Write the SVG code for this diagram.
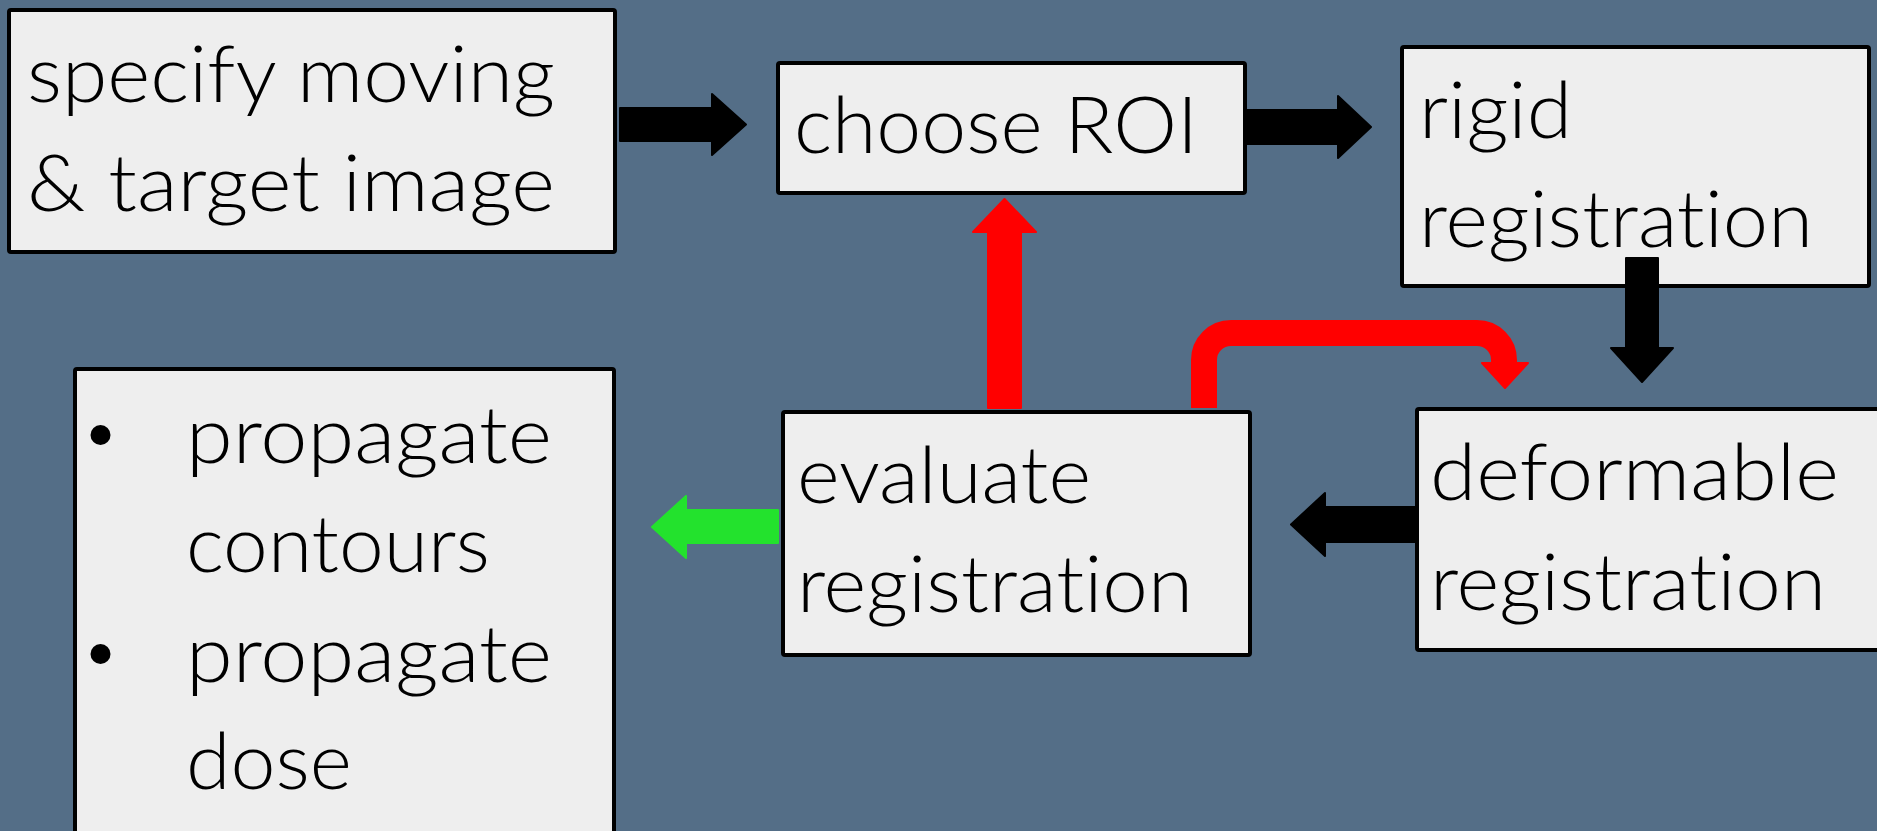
<svg xmlns="http://www.w3.org/2000/svg" width="1877" height="831" viewBox="0 0 1877 831">
<style>
.box{fill:#eeeeee;stroke:#000;stroke-width:4;}
.t{font-family:Lato,"Noto Sans","Liberation Sans",sans-serif;font-size:78px;font-weight:300;fill:#000;font-variant-ligatures:none;font-feature-settings:"liga" 0,"clig" 0;}
.blk{fill:#000;stroke:#000;stroke-width:2;stroke-linejoin:round;}
.red{fill:#ff0000;stroke:#ff0000;stroke-width:2;stroke-linejoin:round;}
.grn{fill:#23e22d;stroke:#23e22d;stroke-width:2;stroke-linejoin:round;}
</style>
<rect x="0" y="0" width="1877" height="831" fill="#546e87"/>
<g id="specify">
<rect class="box" x="9" y="10" width="606" height="242" rx="2"/>
<text class="t" x="27" y="102" textLength="528" lengthAdjust="spacingAndGlyphs">specify moving</text>
<text class="t" x="27" y="211" textLength="528" lengthAdjust="spacingAndGlyphs">&amp; target image</text>
</g>
<g id="roi">
<rect class="box" x="778" y="63" width="467" height="130" rx="2"/>
<text class="t" x="794" y="153" textLength="404" lengthAdjust="spacingAndGlyphs">choose ROI</text>
</g>
<g id="rigid">
<rect class="box" x="1402" y="47" width="467" height="239" rx="2"/>
<text class="t" x="1419" y="138" textLength="153" lengthAdjust="spacingAndGlyphs">rigid</text>
<text class="t" x="1419" y="247" textLength="394" lengthAdjust="spacingAndGlyphs">registration</text>
</g>
<g id="evaluate">
<rect class="box" x="783" y="412" width="467" height="243" rx="2"/>
<text class="t" x="797" y="503" textLength="294" lengthAdjust="spacingAndGlyphs">evaluate</text>
<text class="t" x="797" y="612" textLength="396" lengthAdjust="spacingAndGlyphs">registration</text>
</g>
<g id="deformable">
<rect class="box" x="1417" y="409" width="480" height="241" rx="2"/>
<text class="t" x="1430" y="500" textLength="409" lengthAdjust="spacingAndGlyphs">deformable</text>
<text class="t" x="1430" y="610" textLength="396" lengthAdjust="spacingAndGlyphs">registration</text>
</g>
<g id="propagate">
<rect class="box" x="75" y="369" width="539" height="500" rx="2"/>
<circle cx="100.5" cy="435" r="10" fill="#000"/>
<circle cx="100.5" cy="654" r="10" fill="#000"/>
<text class="t" x="186" y="463" textLength="366" lengthAdjust="spacingAndGlyphs">propagate</text>
<text class="t" x="186" y="572" textLength="304" lengthAdjust="spacingAndGlyphs">contours</text>
<text class="t" x="186" y="682" textLength="366" lengthAdjust="spacingAndGlyphs">propagate</text>
<text class="t" x="186" y="789" textLength="166" lengthAdjust="spacingAndGlyphs">dose</text>
</g>
<g id="connectors">
<path class="blk" d="M620,108 H712 V94 L746,124.5 L712,155 V141 H620 Z"/>
<path class="blk" d="M1247,110 H1338 V96 L1371,127 L1338,158 V144 H1247 Z"/>
<path class="blk" d="M1626,258 H1658 V348 H1673 L1642,382 L1611,348 H1626 Z"/>
<path class="blk" d="M1415,507 H1325 V493 L1291,524.5 L1325,556 V542 H1415 Z"/>
<path class="red" d="M988,408 V232 H973 L1004.5,199 L1036,232 H1021 V408 Z"/>
<path d="M1204,408 V360 A27,27 0 0 1 1231,333 H1477 A27,27 0 0 1 1504,360 V366" fill="none" stroke="#ff0000" stroke-width="26"/>
<path class="red" d="M1482,363 H1528 L1505,388 Z"/>
<path class="grn" d="M778,510 H686 V496 L652,527 L686,558 V543 H778 Z"/>
</g>
</svg>
